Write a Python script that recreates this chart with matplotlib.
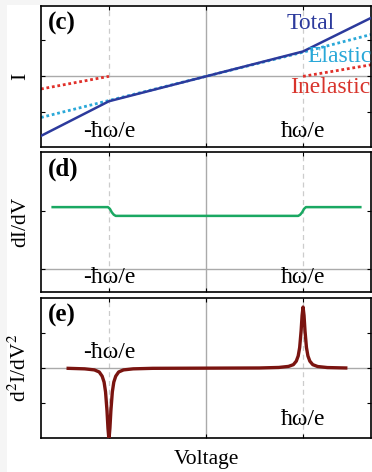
import matplotlib
matplotlib.use('Agg')
import matplotlib.pyplot as plt
from matplotlib.patches import Rectangle

plt.rcParams['font.family'] = ['Liberation Serif', 'DejaVu Serif']
plt.rcParams['mathtext.fontset'] = 'stix'

# voltage in units of hbar*omega/e
v_c = [-1.7, -1.0, 0.0, 1.0, 1.7]
total = [-1.65, -0.69, 0.0, 0.69, 1.62]
elastic = [-1.14, -0.67, 0.0, 0.67, 1.16]
v_inel_left = [-1.7, -1.0]
inel_left = [-0.35, 0.0]
v_inel_right = [1.0, 1.7]
inel_right = [0.0, 0.32]

v_d = [-1.58, -1.01, -0.99, -0.97, -0.95, -0.93, 0.95, 0.97, 0.99, 1.01, 1.03, 1.59]
didv = [1.06, 1.06, 1.03, 0.97, 0.93, 0.91, 0.91, 0.93, 0.97, 1.03, 1.06, 1.06]

v_e = [-1.42, -1.25, -1.15, -1.1, -1.07, -1.05, -1.035, -1.02, -1.01, -1.0,
       -0.99, -0.98, -0.965, -0.95, -0.93, -0.9, -0.85, -0.75, -0.55,
       0.55, 0.75, 0.85, 0.9, 0.93, 0.95, 0.965, 0.98, 0.99, 1.0,
       1.01, 1.02, 1.035, 1.05, 1.07, 1.1, 1.15, 1.25, 1.44]
d2idv2 = [-0.005, -0.02, -0.05, -0.11, -0.23, -0.4, -0.68, -1.22, -1.72, -2.05,
          -1.72, -1.22, -0.68, -0.4, -0.23, -0.11, -0.05, -0.02, -0.005,
          0.005, 0.02, 0.05, 0.1, 0.2, 0.35, 0.59, 1.07, 1.51, 1.75,
          1.51, 1.07, 0.59, 0.35, 0.2, 0.1, 0.047, 0.017, 0.005]

fig = plt.figure(figsize=(3.72, 4.72), dpi=100, facecolor='#f5f5f5')
fig.patches.append(Rectangle((7 / 372, 0), 1, 1 - 5 / 472, transform=fig.transFigure,
                             facecolor='white', edgecolor='none', zorder=-10))

left, width = 41 / 372, 330 / 372
ax_c = fig.add_axes([left, 1 - 146.7 / 472, width, 140.7 / 472])
ax_d = fig.add_axes([left, 1 - 291.7 / 472, width, 139.4 / 472])
ax_e = fig.add_axes([left, 1 - 438 / 472, width, 139.7 / 472])

fs = 17
lab_fs = 15.5
for ax in (ax_c, ax_d, ax_e):
    ax.set_xlim(-1.7, 1.7)
    ax.set_xticks([-1, 0, 1])
    ax.set_xticklabels([])
    ax.tick_params(direction='in', top=True, right=True, length=3, width=0.8)
    ax.axvline(0, color='#aaaaaa', lw=1.0, zorder=1)
    for xv in (-1, 1):
        ax.axvline(xv, color='#cccccc', lw=0.9, ls=(0, (4, 3)), zorder=1)
    for s in ax.spines.values():
        s.set_linewidth(1.2)

# (c)
ax_c.set_ylim(-1.95, 1.95)
ax_c.set_yticks([-1, 0, 1])
ax_c.set_yticklabels([])
ax_c.axhline(0, color='#aaaaaa', lw=1.0, zorder=1)
ax_c.plot(v_c, elastic, color='#2aa8d8', lw=2, ls=(0, (1, 1)), zorder=2)
ax_c.plot(v_inel_left, inel_left, color='#e0302a', lw=2, ls=(0, (1, 1)), zorder=2)
ax_c.plot(v_inel_right, inel_right, color='#e0302a', lw=2, ls=(0, (1, 1)), zorder=2)
ax_c.plot(v_c, total, color='#2c3a9c', lw=1.8, zorder=3)
ax_c.text(0.83, 1.46, 'Total', color='#2c3a9c', fontsize=fs, ha='left', va='center')
ax_c.text(1.04, 0.54, 'Elastic', color='#2aa8d8', fontsize=fs, ha='left', va='center')
ax_c.text(0.87, -0.32, 'Inelastic', color='#d8342c', fontsize=fs, ha='left', va='center')
ax_c.set_ylabel('I', fontsize=lab_fs, labelpad=4)

# (d)
ax_d.set_ylim(-0.39, 2.0)
ax_d.set_yticks([0, 1])
ax_d.set_yticklabels([])
ax_d.axhline(0, color='#aaaaaa', lw=1.0, zorder=1)
ax_d.plot(v_d, didv, color='#1aa862', lw=1.8, zorder=3)
ax_d.set_ylabel('dI/dV', fontsize=lab_fs, labelpad=4)

# (e)
ax_e.set_ylim(-2.0, 2.0)
ax_e.set_yticks([-1, 0, 1])
ax_e.set_yticklabels([])
ax_e.axhline(0, color='#aaaaaa', lw=1.0, zorder=1)
ax_e.plot(v_e, d2idv2, color='#7a1410', lw=2.4, zorder=3)
ax_e.set_ylabel('d$^2$I/dV$^2$', fontsize=lab_fs, labelpad=4)
ax_e.set_xlabel('Voltage', fontsize=lab_fs, labelpad=5)

# panel letters and threshold labels
for ax, lab in ((ax_c, '(c)'), (ax_d, '(d)'), (ax_e, '(e)')):
    ax.text(0.02, 0.96, lab, transform=ax.transAxes, fontsize=18, fontweight='bold',
            ha='left', va='top')

for ax in (ax_c, ax_d):
    ax.text(-1.0, 0.03, '-ħω/e', transform=ax.get_xaxis_transform(), fontsize=fs,
            ha='center', va='bottom')
    ax.text(1.0, 0.03, 'ħω/e', transform=ax.get_xaxis_transform(), fontsize=fs,
            ha='center', va='bottom')
ax_e.text(-1.0, 0.54, '-ħω/e', transform=ax_e.get_xaxis_transform(), fontsize=fs,
          ha='center', va='bottom')
ax_e.text(1.0, 0.06, 'ħω/e', transform=ax_e.get_xaxis_transform(), fontsize=fs,
          ha='center', va='bottom')

fig.savefig('out.png', dpi=100, facecolor=fig.get_facecolor())
